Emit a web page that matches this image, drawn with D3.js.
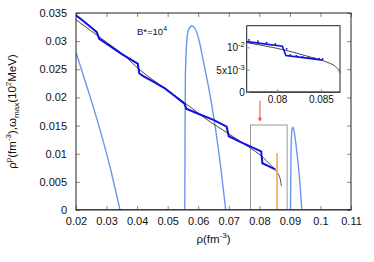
<!DOCTYPE html>
<html>
<head>
<meta charset="utf-8">
<script src="https://cdn.jsdelivr.net/npm/d3@7"></script>
<style>
  html, body { margin: 0; padding: 0; background: #fff; }
  svg { display: block; font-family: "Liberation Sans", Arial, sans-serif; }
</style>
</head>
<body>
<div id="chart-area"></div>
<script>
// valores
const xTicks = [0.02, 0.03, 0.04, 0.05, 0.06, 0.07, 0.08, 0.09, 0.1, 0.11];
const yTicks = [0, 0.005, 0.01, 0.015, 0.02, 0.025, 0.03, 0.035];

// curva preta (fina)
const blackX = [0.020, 0.025, 0.030, 0.035, 0.0409, 0.0491, 0.0557, 0.0638, 0.0678, 0.0765, 0.0809, 0.0835, 0.0858, 0.0866, 0.0870, 0.0872];
const blackY = [0.0338, 0.0318, 0.0298, 0.0278, 0.0249, 0.0216, 0.0190, 0.0157, 0.0143, 0.0112, 0.0095, 0.0081, 0.0067, 0.0059, 0.0051, 0.0043];

// curva azul (grossa, com degraus)
const blueX = [0.0200, 0.0230, 0.0255, 0.0268, 0.0276, 0.0290, 0.0320, 0.0350, 0.0380, 0.0402, 0.0407, 0.0420, 0.0450, 0.0491, 0.0520, 0.0555, 0.0561, 0.0600, 0.0650, 0.0693, 0.0700, 0.0737, 0.0770, 0.0806, 0.0810, 0.0830, 0.0852];
const blueY = [0.0346, 0.0333, 0.0322, 0.0316, 0.0304, 0.0299, 0.0288, 0.0277, 0.0267, 0.0260, 0.0243, 0.0238, 0.0229, 0.0216, 0.0204, 0.0189, 0.0180, 0.0171, 0.0160, 0.0148, 0.0131, 0.0121, 0.0113, 0.0104, 0.0083, 0.0078, 0.0072];

// pontinhos azuis (vistos no inset)
const dotsX = [0.0768, 0.0778, 0.0788, 0.0798, 0.0811, 0.0815, 0.0822, 0.0829, 0.0836, 0.0842, 0.0848, 0.0852];
const dotsY = [0.0118, 0.0115, 0.0112, 0.0109, 0.0098, 0.0084, 0.0082, 0.0080, 0.0078, 0.0077, 0.0076, 0.0075];

// arcos azul claro (omega_max)
const arc1X = [0.0200, 0.0240, 0.0279, 0.0312, 0.0344];
const arc1Y = [0.0280, 0.0212, 0.0142, 0.0075, 0.0000];
const arc2X = [0.0556, 0.0557, 0.0558, 0.0562, 0.0568, 0.0579, 0.0590, 0.0602, 0.0617, 0.0635, 0.0655, 0.0675, 0.0690];
const arc2Y = [0.0000, 0.0150, 0.0237, 0.0296, 0.0320, 0.0327, 0.0322, 0.0303, 0.0264, 0.0215, 0.0150, 0.0070, 0.0000];
const arc3X = [0.0902, 0.0903, 0.0904, 0.0906, 0.0909, 0.0913, 0.0922, 0.0933, 0.0939];
const arc3Y = [0.0000, 0.0060, 0.0110, 0.0138, 0.0147, 0.0142, 0.0107, 0.0047, 0.0000];

// linha laranja, linha vermelha no zero, caixa cinza
const orangeX = 0.0858, orangeTop = 0.0101;
const redX = [0.02, 0.0855];
const zeroBlueX = [0.0855, 0.11];
const boxX = [0.0771, 0.0891], boxY = [0, 0.0151];

// inset
const insetXTicks = [0.08, 0.085];
const insetYTicks = [0, 0.005, 0.01];
const insetYLabels = [['0', ''], ['5x10', '-3'], ['10', '-2']];

const width = 374, height = 262;
const margin = { top: 13, right: 23, bottom: 52, left: 76 };
const innerWidth = width - margin.left - margin.right;
const innerHeight = height - margin.top - margin.bottom;

const svg = d3.select('#chart-area').append('svg')
    .attr('width', width)
    .attr('height', height);

svg.append('defs').append('clipPath').attr('id', 'clipMain')
    .append('rect').attr('width', innerWidth).attr('height', innerHeight);

const g = svg.append('g').attr('transform', `translate(${margin.left}, ${margin.top})`);

const xScale = d3.scaleLinear().domain([0.02, 0.11]).range([0, innerWidth]);
const yScale = d3.scaleLinear().domain([0, 0.035]).range([innerHeight, 0]);

const fmt = d => d === 0 ? '0' : String(+d.toFixed(3));

// eixos (ticks para dentro)
const axB = g.append('g').attr('transform', `translate(0, ${innerHeight})`)
    .call(d3.axisBottom(xScale).tickValues(xTicks).tickFormat(fmt).tickSizeInner(-4).tickSizeOuter(0).tickPadding(7));
const axL = g.append('g')
    .call(d3.axisLeft(yScale).tickValues(yTicks).tickFormat(fmt).tickSizeInner(-4).tickSizeOuter(0).tickPadding(9));
const axT = g.append('g')
    .call(d3.axisTop(xScale).tickValues(xTicks).tickFormat('').tickSizeInner(-4).tickSizeOuter(0));
const axR = g.append('g').attr('transform', `translate(${innerWidth}, 0)`)
    .call(d3.axisRight(yScale).tickValues(yTicks).tickFormat('').tickSizeInner(-4).tickSizeOuter(0));

// eixos de cima e da direita só com ticks
axT.selectAll('text').remove();
axR.selectAll('text').remove();

[axB, axL, axT, axR].forEach(a => {
    a.select('.domain').remove();
    a.selectAll('line').attr('stroke', '#888');
    a.selectAll('text').attr('font-size', '11px').attr('fill', '#111');
});

const line = (xs, ys, sx, sy, curve) => d3.line()
    .x(i => sx(xs[i])).y(i => sy(ys[i]))
    .curve(curve || d3.curveLinear)(d3.range(xs.length));

const plot = g.append('g').attr('clip-path', 'url(#clipMain)');

// caixa cinza
plot.append('rect')
    .attr('x', xScale(boxX[0])).attr('y', yScale(boxY[1]))
    .attr('width', xScale(boxX[1]) - xScale(boxX[0]))
    .attr('height', yScale(boxY[0]) - yScale(boxY[1]))
    .attr('fill', 'none').attr('stroke', '#999').attr('stroke-width', 1);

// arcos
[[arc1X, arc1Y], [arc2X, arc2Y], [arc3X, arc3Y]].forEach(([xs, ys]) => {
    plot.append('path').attr('d', line(xs, ys, xScale, yScale, d3.curveMonotoneX))
        .attr('fill', 'none').attr('stroke', '#6a97ee').attr('stroke-width', 1.4);
});

// curva preta
plot.append('path').attr('d', line(blackX, blackY, xScale, yScale, d3.curveMonotoneX))
    .attr('fill', 'none').attr('stroke', '#333').attr('stroke-width', 0.9);

// curva azul
plot.append('path').attr('d', line(blueX, blueY, xScale, yScale))
    .attr('fill', 'none').attr('stroke', '#1010e0').attr('stroke-width', 2);

// laranja
plot.append('line')
    .attr('x1', xScale(orangeX)).attr('x2', xScale(orangeX))
    .attr('y1', yScale(0)).attr('y2', yScale(orangeTop))
    .attr('stroke', '#f5a339').attr('stroke-width', 1.5);

// linha no zero
plot.append('line')
    .attr('x1', xScale(redX[0])).attr('x2', xScale(redX[1]))
    .attr('y1', yScale(0)).attr('y2', yScale(0))
    .attr('stroke', '#c0302a').attr('stroke-width', 2);
plot.append('line')
    .attr('x1', xScale(zeroBlueX[0])).attr('x2', xScale(zeroBlueX[1]))
    .attr('y1', yScale(0)).attr('y2', yScale(0))
    .attr('stroke', '#3d5a96').attr('stroke-width', 2);

// moldura
g.append('rect').attr('width', innerWidth).attr('height', innerHeight)
    .attr('fill', 'none').attr('stroke', '#222').attr('stroke-width', 1);

// seta vermelha
const ax = xScale(0.0802);
g.append('line').attr('x1', ax).attr('x2', ax)
    .attr('y1', yScale(0.0194)).attr('y2', yScale(0.0162))
    .attr('stroke', '#f04848').attr('stroke-width', 1);
g.append('path')
    .attr('d', `M${ax - 2},${yScale(0.0164)} L${ax + 2},${yScale(0.0164)} L${ax},${yScale(0.0157)} Z`)
    .attr('fill', '#f04848');

// texto B*
const bt = g.append('text').attr('x', 61).attr('y', 22).attr('font-size', '9.5px').attr('fill', '#111');
bt.append('tspan').text('B*=10');
bt.append('tspan').attr('dy', -4).attr('font-size', '7px').text('4');

// rótulos dos eixos
const xl = svg.append('text').attr('x', margin.left + innerWidth / 2).attr('y', 243)
    .attr('text-anchor', 'middle').attr('font-size', '11.5px').attr('fill', '#111');
xl.append('tspan').text('ρ(fm');
xl.append('tspan').attr('dy', -5).attr('font-size', '8px').text('-3');
xl.append('tspan').attr('dy', 5).text(')');

const yl = svg.append('text')
    .attr('transform', `translate(15.5, ${margin.top + innerHeight / 2}) rotate(-90)`)
    .attr('text-anchor', 'middle').attr('font-size', '11.5px').attr('fill', '#111');
yl.append('tspan').text('ρ');
yl.append('tspan').attr('dy', -5).attr('font-size', '8px').text('p');
yl.append('tspan').attr('dy', 5).text('(fm');
yl.append('tspan').attr('dy', -5).attr('font-size', '8px').text('-3');
yl.append('tspan').attr('dy', 5).text('),ω');
yl.append('tspan').attr('dy', 3).attr('font-size', '8px').text('max');
yl.append('tspan').attr('dy', -3).text('(10');
yl.append('tspan').attr('dy', -5).attr('font-size', '8px').text('2');
yl.append('tspan').attr('dy', 5).text('MeV)');

// ---------- inset ----------
const inset = { left: 246.7, top: 25.7, right: 340, bottom: 92.3 };
const ix = d3.scaleLinear().domain([0.07653, 0.08718]).range([inset.left, inset.right]);
const iy = d3.scaleLinear().domain([0, 0.015]).range([inset.bottom, inset.top]);

svg.append('defs').append('clipPath').attr('id', 'clipInset')
    .append('rect').attr('x', inset.left).attr('y', inset.top)
    .attr('width', inset.right - inset.left).attr('height', inset.bottom - inset.top);

svg.append('rect').attr('x', inset.left).attr('y', inset.top)
    .attr('width', inset.right - inset.left).attr('height', inset.bottom - inset.top)
    .attr('fill', '#fff');

const ig = svg.append('g').attr('clip-path', 'url(#clipInset)');

ig.append('path').attr('d', line(blackX, blackY, ix, iy, d3.curveMonotoneX))
    .attr('fill', 'none').attr('stroke', '#333').attr('stroke-width', 0.9);
ig.append('path').attr('d', line(blueX, blueY, ix, iy))
    .attr('fill', 'none').attr('stroke', '#1010e0').attr('stroke-width', 1.6);
ig.selectAll('.dot').data(d3.range(dotsX.length)).enter().append('circle')
    .attr('class', 'dot')
    .attr('cx', i => ix(dotsX[i])).attr('cy', i => iy(dotsY[i]))
    .attr('r', 0.9).attr('fill', '#1010e0');
ig.append('line')
    .attr('x1', ix(0.07653)).attr('x2', ix(redX[1]))
    .attr('y1', iy(0)).attr('y2', iy(0))
    .attr('stroke', '#a83a3a').attr('stroke-width', 2);
ig.append('line')
    .attr('x1', ix(zeroBlueX[0])).attr('x2', ix(0.08718))
    .attr('y1', iy(0)).attr('y2', iy(0))
    .attr('stroke', '#7088b0').attr('stroke-width', 2);

svg.append('rect').attr('x', inset.left).attr('y', inset.top)
    .attr('width', inset.right - inset.left).attr('height', inset.bottom - inset.top)
    .attr('fill', 'none').attr('stroke', '#222').attr('stroke-width', 1);

// ticks e rótulos do inset
svg.append('g').attr('transform', `translate(0, ${inset.bottom})`)
    .call(d3.axisBottom(ix).tickValues(insetXTicks).tickFormat(d => String(d)).tickSizeInner(-3).tickSizeOuter(0).tickPadding(4))
    .call(a => a.select('.domain').remove())
    .call(a => a.selectAll('line').attr('stroke', '#888'))
    .call(a => a.selectAll('text').attr('font-size', '10px').attr('fill', '#111'));

const iyl = svg.append('g');
insetYTicks.forEach((v, i) => {
    iyl.append('line').attr('x1', inset.left).attr('x2', inset.left + 3)
        .attr('y1', iy(v)).attr('y2', iy(v)).attr('stroke', '#888');
    const t = iyl.append('text').attr('x', inset.left - 2).attr('y', iy(v) + 3.5)
        .attr('text-anchor', 'end').attr('font-size', '10px').attr('fill', '#111');
    t.append('tspan').text(insetYLabels[i][0]);
    if (insetYLabels[i][1]) {
        t.append('tspan').attr('dy', -4).attr('font-size', '7.5px').text(insetYLabels[i][1]);
    }
});
</script>
</body>
</html>
